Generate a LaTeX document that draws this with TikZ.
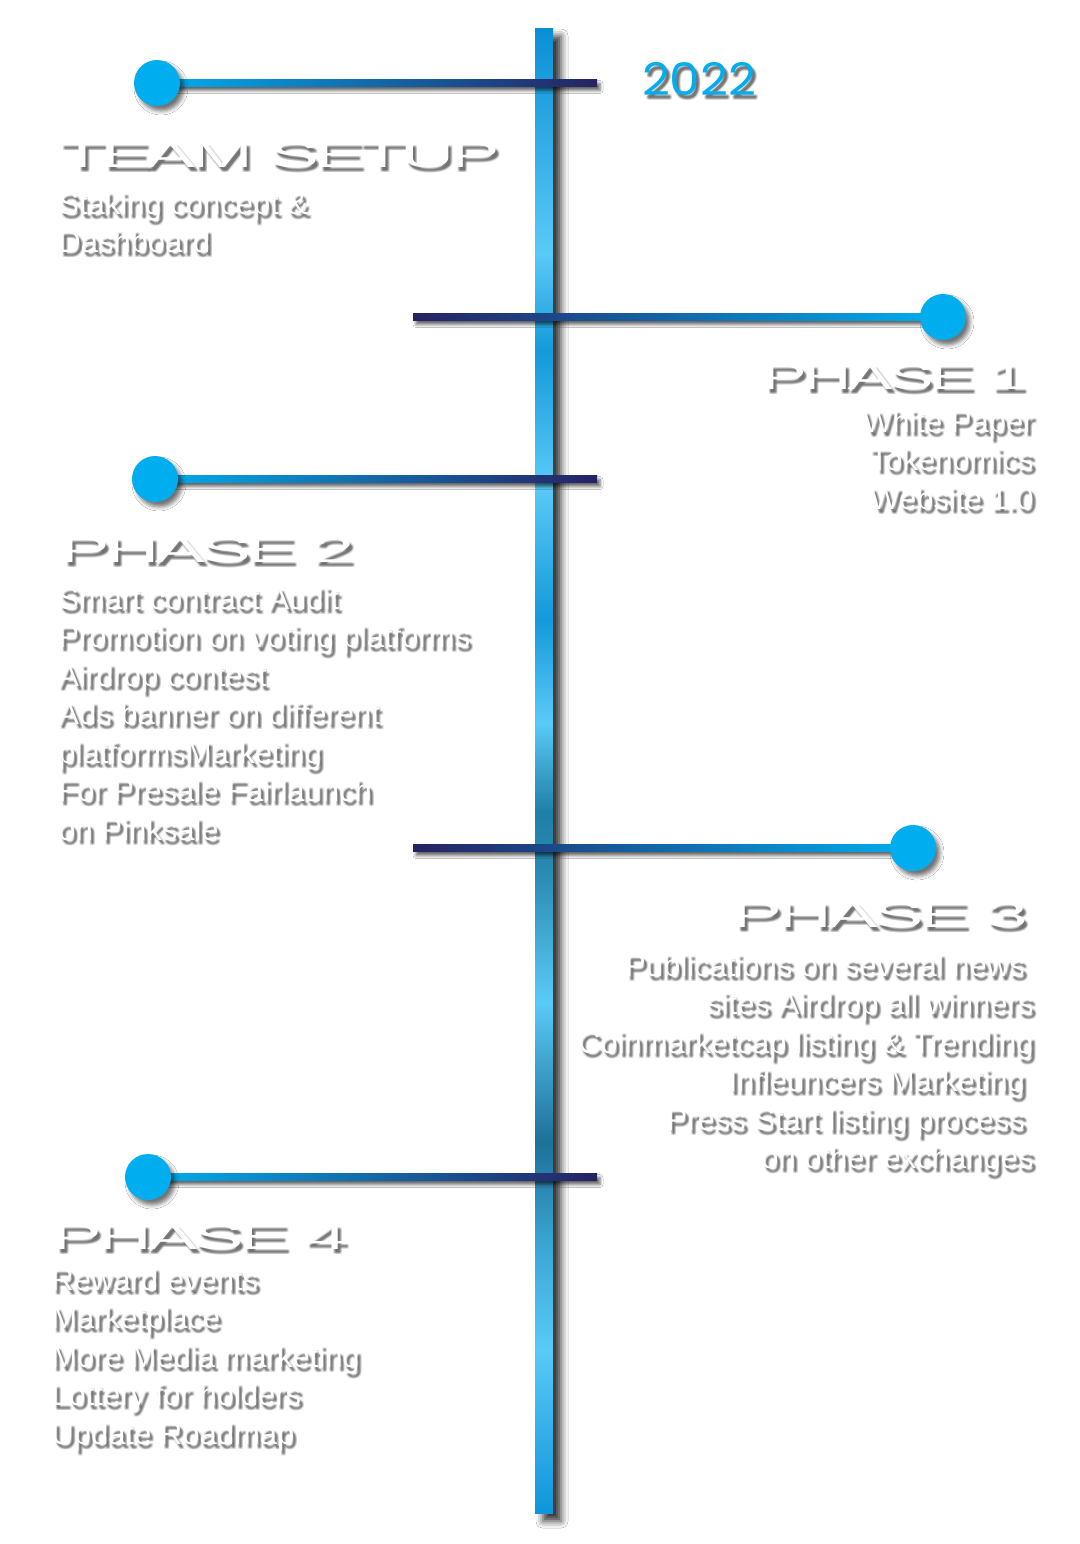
\documentclass[tikz,border=0pt]{standalone}
\usepackage{fontspec}
\usepackage{graphicx}
\usetikzlibrary{calc,shadows.blur}
\newfontfamily\bodyfam{Liberation Sans}
\newfontfamily\headfam{Liberation Sans}[LetterSpace=-6]
\newfontfamily\yearfam{Poppins}
\definecolor{dotcyan}{HTML}{00AEEF}
\definecolor{ticknavy}{HTML}{262262}
\definecolor{barA}{HTML}{0A8FD5}
\definecolor{barL}{HTML}{5ACAF7}
\definecolor{barM}{HTML}{139AD9}
\definecolor{barT}{HTML}{1F7FA6}
\definecolor{barTT}{HTML}{2A8AB0}
\definecolor{barD}{HTML}{1D7198}
\definecolor{barE}{HTML}{3BA6D3}
\definecolor{barB}{HTML}{0E95DA}
\pgfdeclareverticalshading{barshade}{100bp}{color(0bp)=(barB); color(25bp)=(barB);
  color(30.5bp)=(barL); color(34bp)=(barE); color(37.5bp)=(barD); color(42.2bp)=(barL);
  color(46.6bp)=(barTT); color(48.6bp)=(barT); color(51.6bp)=(barL); color(55.1bp)=(barM);
  color(59.6bp)=(barL); color(64.1bp)=(barM); color(67.4bp)=(barL); color(75bp)=(barA);
  color(100bp)=(barA)}
\tikzset{
  barglow/.style={blur shadow={shadow xshift=4pt, shadow yshift=-4pt, shadow blur radius=3.5pt,
    shadow opacity=80}},
  tickglow/.style={blur shadow={shadow xshift=1.5pt, shadow yshift=-2pt, shadow blur radius=1.5pt,
    shadow opacity=60}},
  dot/.style={circle, fill=dotcyan, minimum size=23pt, inner sep=0pt,
    blur shadow={shadow xshift=2pt, shadow yshift=-2.5pt, shadow blur radius=2pt, shadow opacity=55}},
  txtmain/.style={inner sep=0pt, text=white, font=\bodyfam\fontsize{15.5pt}{19.25pt}\selectfont},
  txtshadow/.style={txtmain, text=black, text opacity=0.12},
}
% white text over a soft grey shadow
\newcommand\shadowtext[5][]{%
  \foreach \dx/\dy [count=\k] in {2/3,4/5,3/4,2/5,4/3,3/4}
    \node[txtshadow, anchor=#3] (#2-s\k) at ($(#4)+(\dx,\dy)$) {#5};
  \node[txtmain, #1, anchor=#3] (#2) at (#4) {#5};}
% one line per list item
\newcommand\textblock[5]{%
  \foreach \lin [count=\i from 0] in {#5}{
    \shadowtext{#1\i}{#4}{#2,{#3+\i*38.5}}{\lin}}}

\begin{document}
\begin{tikzpicture}[x=0.5pt, y=-0.5pt]
  \fill[white] (0,0) rectangle (1080,1544);
  \useasboundingbox (0,0) rectangle (1080,1544);
  % timeline bar
  \shade[shading=barshade, barglow] (535,28) rectangle (553,1513);
  % ticks with dots
  \foreach \n/\xd/\xe/\yy/\cl/\cr in {0/157/597/83/dotcyan/ticknavy,
      1/943/413/317/ticknavy/dotcyan, 2/155/597/479/dotcyan/ticknavy,
      3/913/413/848/ticknavy/dotcyan, 4/148/597/1177/dotcyan/ticknavy}{
    \coordinate (d\n) at (\xd,\yy);
    \coordinate (e\n) at (\xe,\yy);
    \shade[tickglow, left color=\cl, right color=\cr] ($(d\n)+(0,-3.5)$) rectangle ($(e\n)+(0,3.5)$);
    \node[dot] (dot\n) at (d\n) {};
  }
  % year
  \shadowtext[text=dotcyan]{year}{base}{699,95}{\resizebox{57pt}{16.5pt}{\yearfam 2022}}
  % headings
  \shadowtext{team}{base west}{59,167}{\resizebox{220pt}{12.5pt}{\headfam TEAM SETUP}}
  \shadowtext{phone}{base east}{1027,389}{\resizebox{132.5pt}{12.5pt}{\headfam PHASE 1}}
  \shadowtext{phtwo}{base west}{59,562}{\resizebox{147.5pt}{12.5pt}{\headfam PHASE 2}}
  \shadowtext{phthree}{base east}{1028,927}{\resizebox{148pt}{12.5pt}{\headfam PHASE 3}}
  \shadowtext{phfour}{base west}{51,1249}{\resizebox{148pt}{12.5pt}{\headfam PHASE 4}}
  % items
  \textblock{teamit}{58}{214}{base west}{Staking concept \&, Dashboard}
  \textblock{oneit}{1034}{432}{base east}{White Paper, Tokenomics, Website 1.0}
  \textblock{twoit}{58}{609}{base west}{Smart contract Audit, Promotion on voting platforms,
    Airdrop contest, Ads banner on different, platformsMarketing, For Presale Fairlaunch, on Pinksale}
  \textblock{threeit}{1034}{976}{base east}{Publications on several news\hspace*{.28em},
    sites Airdrop all winners, Coinmarketcap listing \& Trending, Infleuncers Marketing\hspace*{.28em},
    Press Start listing process\hspace*{.28em}, on other exchanges}
  \textblock{fourit}{51}{1290}{base west}{Reward events, Marketplace, More Media marketing,
    Lottery for holders, Update Roadmap}
\end{tikzpicture}
\end{document}
